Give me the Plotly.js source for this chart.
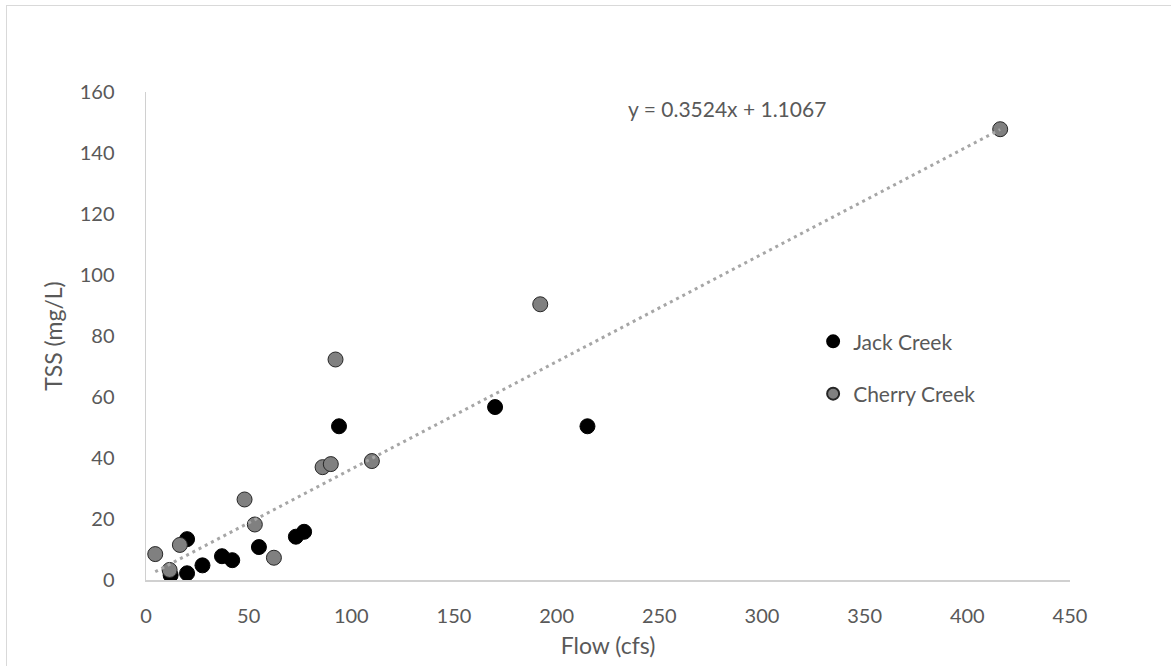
<!DOCTYPE html>
<html>
<head>
<meta charset="utf-8">
<script src="https://cdn.plot.ly/plotly-3.0.1.min.js"></script>
<style>
  html, body { margin: 0; padding: 0; background: #fff; }
  #wrap { position: relative; width: 1176px; height: 666px; }
  #chart { position: absolute; left: 0; top: 0; width: 1176px; height: 666px; }
  #frame { position: absolute; left: 6px; top: 5px; width: 1164px; height: 700px;
           border-left: 1.5px solid #d9d9d9; border-top: 1.5px solid #d9d9d9;
           pointer-events: none; }
</style>
</head>
<body>
<div id="wrap">
  <div id="chart"></div>
  <div id="frame"></div>
</div>
<script>
// ---- data ----
const jackFlow   = [12, 20, 20, 27.5, 37, 42, 55, 73, 77, 94, 170, 215];
const jackTSS    = [1.6, 2.2, 13.4, 4.8, 7.8, 6.5, 10.8, 14.2, 15.8, 50.4, 56.7, 50.4];
const cherryFlow = [4.5, 11.5, 16.5, 48, 53, 62.3, 86, 90, 92.3, 110, 192, 416];
const cherryTSS  = [8.5, 3.3, 11.5, 26.4, 18.2, 7.3, 37, 38, 72.3, 39, 90.4, 147.8];
const trendSlope = [0.3524];
const trendIntercept = [1.1067];
const seriesNames = ["Jack Creek", "Cherry Creek"];
const xTicks = [0, 50, 100, 150, 200, 250, 300, 350, 400, 450];
const yTicks = [0, 20, 40, 60, 80, 100, 120, 140, 160];

const FONT = "Lato, 'Open Sans', sans-serif";
const TXT = "#595959";

const xMin = Math.min(...cherryFlow), xMax = Math.max(...cherryFlow);
const trendX = [xMin, xMax];
const trendY = trendX.map(v => trendSlope[0] * v + trendIntercept[0]);

const traces = [
  {
    x: jackFlow, y: jackTSS, type: "scatter", mode: "markers",
    name: seriesNames[0], legendgroup: "a",
    marker: { color: "#000000", size: 15, line: { color: "#000000", width: 1 } }
  },
  {
    x: cherryFlow, y: cherryTSS, type: "scatter", mode: "markers",
    name: seriesNames[1], legendgroup: "b",
    marker: { color: "#808080", size: 15, line: { color: "#262626", width: 1 } }
  },
  {
    x: trendX, y: trendY, type: "scatter", mode: "lines",
    showlegend: false, hoverinfo: "skip",
    line: { color: "#a6a6a6", width: 3, dash: "3px,4px" }
  }
];

const layout = {
  width: 1176, height: 666,
  paper_bgcolor: "#ffffff", plot_bgcolor: "#ffffff",
  margin: { l: 146, r: 106, t: 92, b: 86 },
  font: { family: FONT, size: 19, color: TXT },
  showlegend: true,
  legend: {
    x: 0.722, y: 0.435, xanchor: "left", yanchor: "middle",
    font: { family: FONT, size: 21, color: TXT },
    tracegroupgap: 22, itemsizing: "constant",
    bgcolor: "rgba(0,0,0,0)"
  },
  xaxis: {
    range: [0, 450], tickvals: xTicks, ticktext: xTicks.map(String),
    showgrid: false, zeroline: false,
    showline: true, linecolor: "#d0d0d0", linewidth: 1.5,
    ticks: "", ticklabelstandoff: 17,
    tickfont: { family: FONT, size: 20, color: TXT },
    title: { text: "Flow (cfs)", font: { family: FONT, size: 23, color: TXT }, standoff: 12 },
    automargin: false
  },
  yaxis: {
    range: [0, 160], tickvals: yTicks, ticktext: yTicks.map(String),
    showgrid: false, zeroline: false,
    showline: true, linecolor: "#d0d0d0", linewidth: 1.5,
    ticks: "", ticklabelstandoff: 26,
    tickfont: { family: FONT, size: 20, color: TXT },
    title: { text: "TSS (mg/L)", font: { family: FONT, size: 23, color: TXT }, standoff: 10 },
    automargin: false
  },
  annotations: [
    {
      xref: "x", yref: "y", x: 283, y: 154.5, xanchor: "center", yanchor: "middle",
      text: "y = " + trendSlope[0].toFixed(4) + "x + " + trendIntercept[0].toFixed(4),
      showarrow: false, font: { family: FONT, size: 21, color: TXT }
    }
  ]
};

Plotly.newPlot("chart", traces, layout, { displayModeBar: false, staticPlot: true });
</script>
</body>
</html>
